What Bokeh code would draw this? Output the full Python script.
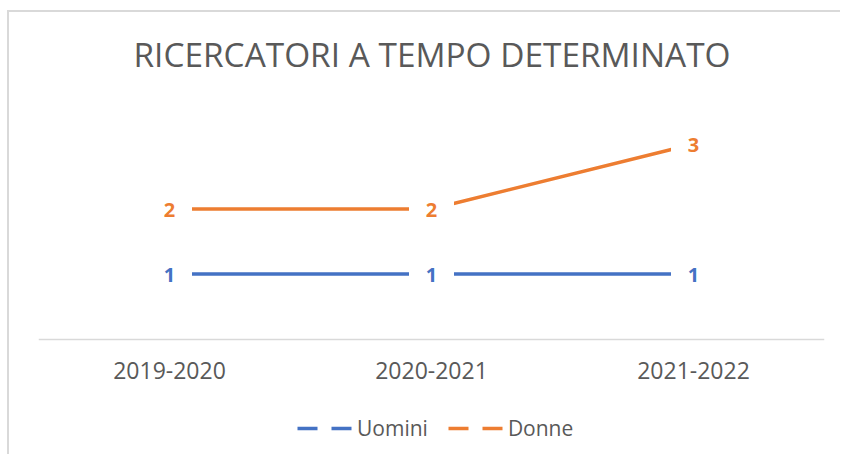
from bokeh.plotting import figure
from bokeh.models import (FactorRange, Range1d, Legend, LegendItem, Label,
                          ColumnDataSource)
from bokeh.core.properties import value
from bokeh.embed import file_html
from bokeh.resources import INLINE

# ---- data ----
categories = ["2019-2020", "2020-2021", "2021-2022"]
uomini = [1, 1, 1]
donne = [2, 2, 3]
series_names = ["Uomini", "Donne"]
title_text = "RICERCATORI A TEMPO DETERMINATO"

BLUE = "#4472C4"
ORANGE = "#ED7D31"
GRAY = "#595959"
FONT = "Open Sans"

OX, OY = 9, 12            # canvas origin on the page (margin + chart border)
W, H = 842 - OX, 456 - OY
FRAME_LEFT_PAGE = 38
PX_PER_UNIT = 65.0
AXIS_Y_PAGE = 338.5       # page y of the value 0 (category axis)
y_top = (AXIS_Y_PAGE - OY) / PX_PER_UNIT
y_bottom = -(456 - AXIS_Y_PAGE) / PX_PER_UNIT

p = figure(width=W, height=H, output_backend="svg", toolbar_location=None,
           x_range=FactorRange(factors=categories, range_padding=0),
           y_range=Range1d(y_bottom, y_top), y_axis_location=None,
           min_border_left=FRAME_LEFT_PAGE - OX, min_border_right=18,
           min_border_top=0, min_border_bottom=0)
p.styles = {"margin-left": "7px", "margin-top": "10px",
            "border-left": "2px solid #D9D9D9", "border-top": "2px solid #D9D9D9"}
p.outline_line_color = None
p.xgrid.grid_line_color = None
p.ygrid.grid_line_color = None
p.background_fill_color = "white"
p.border_fill_color = "white"

# title (inside the frame, positioned in screen px from the frame's bottom-left)
p.add_layout(Label(x=431.5 - FRAME_LEFT_PAGE, y=456 - 53, x_units="screen",
                   y_units="screen", text=title_text, text_align="center",
                   text_baseline="alphabetic", text_font=FONT,
                   text_font_size="33.4px", text_color=GRAY))

ax = p.xaxis[0]
ax.fixed_location = 0
ax.axis_line_color = "#D9D9D9"
ax.axis_line_width = 1.5
ax.major_tick_line_color = None
ax.minor_tick_line_color = None
ax.major_tick_out = 0
ax.major_tick_in = 0
ax.major_label_standoff = 23
ax.major_label_text_font = FONT
ax.major_label_text_font_size = "23px"
ax.major_label_text_color = GRAY

src_u = ColumnDataSource(dict(x=categories, y=uomini, t=[str(v) for v in uomini]))
src_d = ColumnDataSource(dict(x=categories, y=donne, t=[str(v) for v in donne]))

p.line("x", "y", source=src_u, line_color=BLUE, line_width=3.5)
p.line("x", "y", source=src_d, line_color=ORANGE, line_width=3.5)

# white boxes behind data labels
for src in (src_u, src_d):
    p.rect("x", "y", source=src, width=45, height=30, width_units="screen",
           height_units="screen", fill_color="white", line_color=None)

for src, col in ((src_u, BLUE), (src_d, ORANGE)):
    p.text("x", "y", text="t", source=src, text_align="center",
           text_baseline="middle", text_font=value(FONT),
           text_font_style="bold", text_font_size="20px",
           text_color=col, y_offset=1)

# legend (dashed sample glyphs as in the reference)
nan = float("nan")
lu = p.line(x=[categories[0]], y=[nan], line_color=BLUE, line_width=3.5, line_dash="20 14")
ld = p.line(x=[categories[0]], y=[nan], line_color=ORANGE, line_width=3.5, line_dash="20 14")
legend = Legend(items=[LegendItem(label=series_names[0], renderers=[lu]),
                       LegendItem(label=series_names[1], renderers=[ld])],
                orientation="horizontal", location=(297 - FRAME_LEFT_PAGE, 14),
                glyph_width=55, glyph_height=20, label_height=20,
                label_standoff=5, spacing=20, padding=0, margin=0,
                border_line_color=None, background_fill_alpha=0,
                label_text_font=FONT, label_text_font_size="21px",
                label_text_color=GRAY)
p.add_layout(legend, "center")

open("out.html", "w").write(file_html(p, INLINE))
